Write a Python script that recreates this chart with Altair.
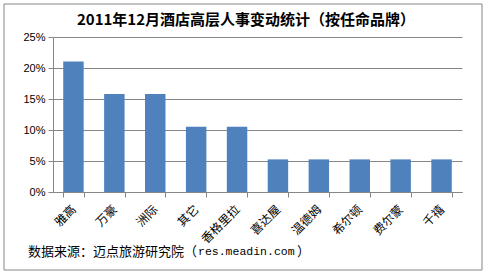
import altair as alt
import pandas as pd

brands = ["雅高", "万豪", "洲际", "其它", "香格里拉", "喜达屋", "温德姆", "希尔顿", "费尔蒙", "千禧"]
shares = [0.2105, 0.1579, 0.1579, 0.1053, 0.1053, 0.0526, 0.0526, 0.0526, 0.0526, 0.0526]
title_text = "2011年12月酒店高层人事变动统计（按任命品牌）"
source_cn = "数据来源：迈点旅游研究院（"
source_url = "res.meadin.com"
source_end = "）"

df = pd.DataFrame({"brand": brands, "share": shares})

xscale = alt.Scale(paddingInner=0.5, paddingOuter=0.25)
yscale = alt.Scale(domain=[0, 0.25])

bars = alt.Chart(df).mark_bar(color="#4F81BD").encode(
    x=alt.X("brand:N", sort=brands, scale=xscale,
            axis=alt.Axis(title=None, labelAngle=315, labelAlign="right", labelBaseline="middle",
                          labelFont="Noto Sans CJK SC", labelFontSize=12, labelColor="#000",
                          labelPadding=10, tickBand="extent", tickColor="#868686", tickSize=5,
                          domainColor="#868686", grid=False)),
    y=alt.Y("share:Q", scale=yscale,
            axis=alt.Axis(title=None, format=".0%", values=[0, 0.05, 0.1, 0.15, 0.2, 0.25],
                          labelFont="Liberation Sans", labelFontSize=11, labelColor="#000",
                          gridColor="#868686", domainColor="#868686", tickColor="#868686",
                          tickSize=5, labelPadding=3)),
)

src1 = alt.Chart(pd.DataFrame({"t": [source_cn]})).mark_text(
    align="left", baseline="middle", font="Noto Sans CJK SC", fontSize=13, color="#000"
).encode(x=alt.value(-25), y=alt.value(215), text="t:N")
src2 = alt.Chart(pd.DataFrame({"t": [source_url]})).mark_text(
    align="left", baseline="middle", font="Liberation Mono", fontSize=11.5, color="#000"
).encode(x=alt.value(145), y=alt.value(215), text="t:N")
src3 = alt.Chart(pd.DataFrame({"t": [source_end]})).mark_text(
    align="left", baseline="middle", font="Noto Sans CJK SC", fontSize=13, color="#000"
).encode(x=alt.value(244), y=alt.value(215), text="t:N")

ttl = alt.Chart(pd.DataFrame({"t": [title_text]})).mark_text(
    align="center", baseline="middle", font="Noto Sans CJK SC", fontSize=15, fontWeight="bold", color="#000"
).encode(x=alt.value(193), y=alt.value(-17), text="t:N")

border = alt.Chart(pd.DataFrame({"a": [0]})).mark_rect(fill=None, stroke="#868686", strokeWidth=1).encode(
    x=alt.value(-49), x2=alt.value(429), y=alt.value(-33), y2=alt.value(233)
)

chart = alt.layer(border, bars, src1, src2, src3, ttl).properties(
    width=409, height=155,
    padding={"left": 53, "top": 37, "right": 26, "bottom": 83},
    autosize=alt.AutoSizeParams(type="none"),
    background="white",
).configure_view(stroke=None)

chart.save("out.html", embed_options={"renderer": "svg", "actions": False})
